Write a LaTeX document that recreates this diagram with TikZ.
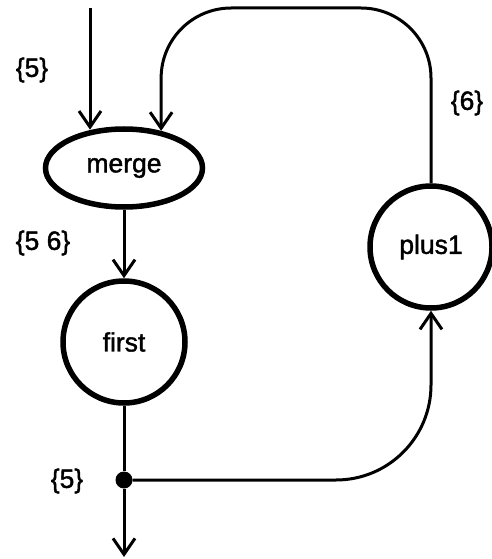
\documentclass[tikz,border=0pt]{standalone}
\usepackage{fontspec}
\setmainfont{Liberation Sans}
\newfontfamily\labelfont{Liberation Sans}[FakeBold=1.5]
\usetikzlibrary{arrows.meta,shapes.geometric}
\tikzset{
  opnode/.style={draw, line width=5.5pt, inner sep=0pt, font=\labelfont\fontsize{26.5}{30}\selectfont},
  flow/.style={line width=3pt, -{Straight Barb[length=16pt,width=22pt,line width=3pt]}},
  line/.style={line width=3pt},
  setlabel/.style={font=\labelfont\fontsize{26.5}{30}\selectfont}
}
\begin{document}
\begin{tikzpicture}[x=1pt,y=-1pt]
  \useasboundingbox (0,0) rectangle (492,559);

  \node[opnode, ellipse, minimum width=157pt, minimum height=78pt] (merge) at (124,168) {merge};
  \node[opnode, circle, minimum size=122pt] (first) at (124,342) {first};
  \node[opnode, circle, minimum size=122pt] (plus1) at (431,247) {plus1};
  \node[circle, fill, inner sep=0pt, minimum size=17pt] (dot) at (124,480) {};
  \coordinate (top) at (90,8);
  \coordinate (out) at (124,557);

  \node[setlabel] (in5) at (32,70) {\{5\}};
  \node[setlabel] (back6) at (467,103) {\{6\}};
  \node[setlabel] (pair) at (43,243) {\{5 6\}};
  \node[setlabel] (out5) at (67,481) {\{5\}};

  \draw[flow] (top) -- (top |- merge.130);
  \draw[flow, rounded corners=70pt] (plus1.north) -- (plus1.north |- top) -| (merge.45);
  \draw[flow] (merge) -- (first);
  \draw[line] (first) -- (dot);
  \draw[flow] (dot) -- (out);
  \draw[flow, rounded corners=95pt] (dot) -| (plus1.south);
\end{tikzpicture}
\end{document}
